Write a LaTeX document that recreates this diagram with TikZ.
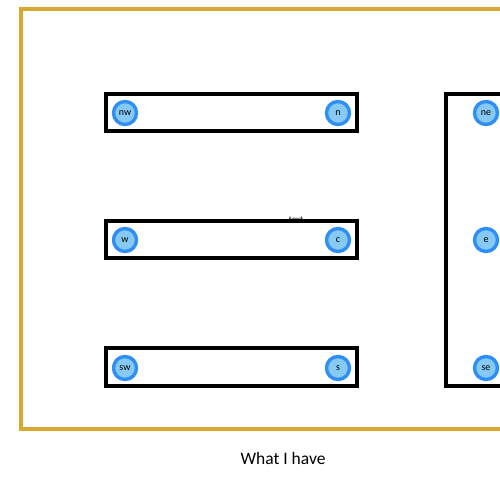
\documentclass[tikz,border=0pt]{standalone}
\usepackage{fontspec}
\setmainfont{Carlito}
\definecolor{gold}{HTML}{D9A82E}
\definecolor{ringblue}{HTML}{2F8FF5}
\definecolor{dotfill}{HTML}{86C9F2}
\begin{document}
\begin{tikzpicture}[x=1pt,y=-1pt,
  frame/.style={draw=gold,line width=3.5pt},
  bar/.style={draw=black,line width=3.5pt},
  dot/.style={circle,draw=ringblue,line width=3.4pt,fill=dotfill,minimum size=23pt,inner sep=0pt,font=\fontsize{10}{11}\selectfont},
  caption/.style={font=\fontsize{17.5}{20}\selectfont}]
\useasboundingbox (0,0) rectangle (500,500);
\begin{scope}
\clip (0,0) rectangle (500,500);
\draw[frame] (21,9) rectangle (520,429);
\node[font=\fontsize{9}{10}\selectfont,inner sep=0pt] (hidden) at (296,220) {text};
\draw[bar,fill=white] (106,94) rectangle (357,131);
\draw[bar,fill=white] (106,221) rectangle (357,258);
\draw[bar,fill=white] (106,348) rectangle (357,386);
\draw[bar,fill=white] (446,94) rectangle (530,386);
\node[dot] (nw) at (125,113) {nw};
\node[dot] (n) at (338,113) {n};
\node[dot] (w) at (125,240) {w};
\node[dot] (c) at (338,240) {c};
\node[dot] (sw) at (125,368) {sw};
\node[dot] (s) at (338,368) {s};
\node[dot] (ne) at (486,113) {ne};
\node[dot] (e) at (486,240) {e};
\node[dot] (se) at (486,368) {se};
\end{scope}
\node[caption] (cap) at (283,458) {What I have};
\end{tikzpicture}
\end{document}
